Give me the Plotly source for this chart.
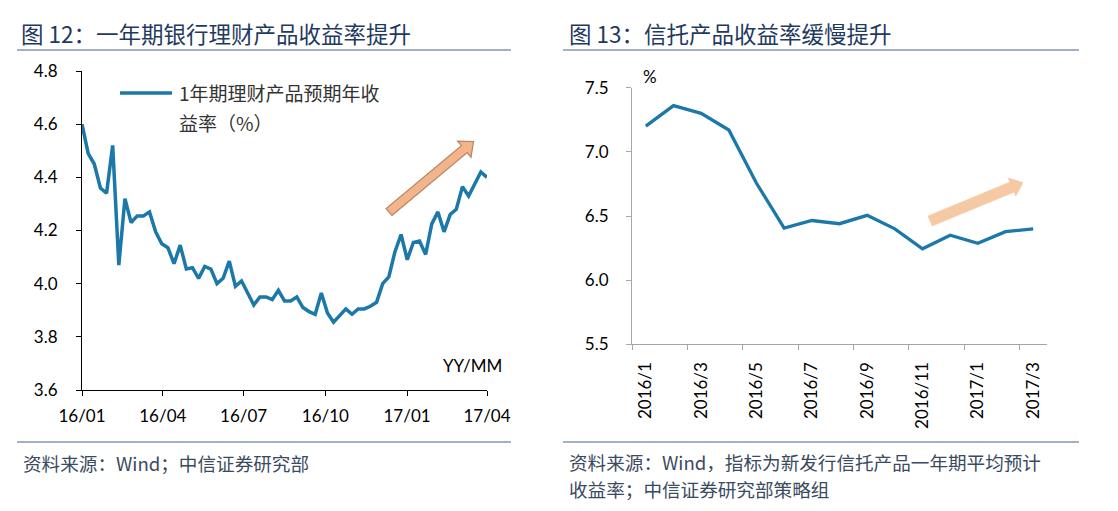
import plotly.graph_objects as go
import pandas as pd

W, H = 1118, 511

# ---------------- data ----------------
# Left chart: weekly 1-year bank WMP expected yield (%)
bank_yield = [4.60, 4.49, 4.45, 4.36, 4.34, 4.52, 4.07, 4.32, 4.23, 4.255,
              4.255, 4.27, 4.195, 4.15, 4.135, 4.075, 4.145, 4.055, 4.06, 4.02,
              4.065, 4.055, 4.00, 4.02, 4.085, 3.99, 4.01, 3.965, 3.92, 3.95,
              3.95, 3.94, 3.975, 3.935, 3.935, 3.95, 3.91, 3.895, 3.885, 3.965,
              3.89, 3.855, 3.88, 3.905, 3.885, 3.905, 3.905, 3.915, 3.93, 4.00,
              4.025, 4.12, 4.185, 4.09, 4.155, 4.16, 4.11, 4.225, 4.27, 4.195,
              4.26, 4.28, 4.365, 4.33, 4.375, 4.42, 4.40]
bank_dates = pd.date_range("2016-01-01", "2017-04-01", periods=len(bank_yield))
left_tickvals = ["2016-01-01", "2016-04-01", "2016-07-01", "2016-10-01", "2017-01-01", "2017-04-01"]
left_ticktext = ["16/01", "16/04", "16/07", "16/10", "17/01", "17/04"]
left_series_name = "1年期理财产品预期年收益率（%）"
legend_lines = ["1年期理财产品预期年收", "益率（%）"]

# Right chart: monthly trust product expected yield (%)
trust_months = ["2016/1", "2016/2", "2016/3", "2016/4", "2016/5", "2016/6", "2016/7",
                "2016/8", "2016/9", "2016/10", "2016/11", "2016/12", "2017/1",
                "2017/2", "2017/3"]
trust_yield = [7.20, 7.36, 7.30, 7.17, 6.755, 6.405, 6.465, 6.44, 6.505, 6.40,
               6.245, 6.35, 6.287, 6.378, 6.40]

title_left = "图 12：一年期银行理财产品收益率提升"
title_right = "图 13：信托产品收益率缓慢提升"
source_left = "资料来源：Wind；中信证券研究部"
source_right_lines = ["资料来源：Wind，指标为新发行信托产品一年期平均预计",
                      "收益率；中信证券研究部策略组"]

# ---------------- helpers ----------------
def px(x):
    return x / W

def py(y):
    return 1 - y / H

LINE_COLOR = "#1B78A8"
NAVY = "#1F3A5F"
RULE = "#8497B0"
TICK_FONT = dict(family="Lato, Carlito, sans-serif", size=17, color="#000000")
CJK = "Noto Sans CJK SC"

def arrow_path(tail, tip, body_hw, head_hw, head_len):
    import math
    dx, dy = tip[0] - tail[0], tip[1] - tail[1]
    L = math.hypot(dx, dy)
    ux, uy = dx / L, dy / L
    nx, ny = -uy, ux
    bx, by = tip[0] - ux * head_len, tip[1] - uy * head_len
    pts = [
        (tail[0] + nx * body_hw, tail[1] + ny * body_hw),
        (bx + nx * body_hw, by + ny * body_hw),
        (bx + nx * head_hw, by + ny * head_hw),
        tip,
        (bx - nx * head_hw, by - ny * head_hw),
        (bx - nx * body_hw, by - ny * body_hw),
        (tail[0] - nx * body_hw, tail[1] - ny * body_hw),
    ]
    return "M " + " L ".join(f"{px(a):.5f},{py(b):.5f}" for a, b in pts) + " Z"

fig = go.Figure()

fig.add_trace(go.Scatter(
    x=bank_dates, y=bank_yield, mode="lines", name=left_series_name,
    line=dict(color=LINE_COLOR, width=3.5), xaxis="x", yaxis="y",
    showlegend=False,
))
fig.add_trace(go.Scatter(
    x=list(range(len(trust_months))), y=trust_yield, mode="lines",
    name="信托产品收益率", line=dict(color=LINE_COLOR, width=3.3),
    xaxis="x2", yaxis="y2", showlegend=False,
))

idx = list(range(len(trust_months)))

fig.update_layout(
    width=W, height=H,
    margin=dict(l=0, r=0, t=0, b=0, pad=0, autoexpand=False),
    paper_bgcolor="white", plot_bgcolor="white",
    showlegend=False,
    xaxis=dict(
        domain=[px(82), px(487)], anchor="y", type="date", automargin=False,
        range=["2016-01-01", "2017-04-01"],
        tickmode="array", tickvals=left_tickvals, ticktext=left_ticktext,
        ticks="outside", ticklen=5, tickcolor="#000", showline=True,
        linecolor="#000", linewidth=1, showgrid=False, zeroline=False,
        tickfont=TICK_FONT, ticklabelstandoff=6,
    ),
    yaxis=dict(
        domain=[py(390), py(71)], anchor="x", range=[3.6, 4.8], dtick=0.2,
        tick0=3.6, tickformat=".1f", ticks="outside", ticklen=5, automargin=False,
        tickcolor="#000", showline=True, linecolor="#000", linewidth=1,
        showgrid=False, zeroline=False, tickfont=TICK_FONT,
        ticklabelstandoff=15,
    ),
    xaxis2=dict(
        domain=[px(632), px(1047)], anchor="y2", range=[-0.5, len(trust_months) - 0.5],
        tickmode="array", tickvals=idx[::2], ticktext=trust_months[::2],
        ticks="", tickangle=-90, showline=True, linecolor="#A6A6A6",
        linewidth=1, showgrid=False, zeroline=False, tickfont=TICK_FONT,
        ticklabelstandoff=10, automargin=False,
        minor=dict(tickmode="array", tickvals=[i - 0.5 for i in idx[::2]],
                   ticks="outside", ticklen=5, tickcolor="#A6A6A6", showgrid=False),
    ),
    yaxis2=dict(
        domain=[py(344.3), py(87.7)], anchor="x2", range=[5.5, 7.5], dtick=0.5,
        tick0=5.5, tickformat=".1f", ticks="outside", ticklen=5, automargin=False,
        tickcolor="#A6A6A6", showline=True, linecolor="#A6A6A6", linewidth=1,
        showgrid=False, zeroline=False, tickfont=TICK_FONT,
        ticklabelstandoff=14,
    ),
)

FOOT = dict(family=CJK, size=18.6, color="#3A4A60")
annotations = [
    dict(text=title_left, x=px(19), y=py(33), xanchor="left", yanchor="middle",
         font=dict(family=CJK, size=22.5, color=NAVY)),
    dict(text=title_right, x=px(567), y=py(33), xanchor="left", yanchor="middle",
         font=dict(family=CJK, size=22.5, color=NAVY)),
    dict(text=source_left, x=px(21), y=py(462), xanchor="left", yanchor="middle",
         font=FOOT),
    dict(text=source_right_lines[0], x=px(567), y=py(461), xanchor="left",
         yanchor="middle", font=FOOT),
    dict(text=source_right_lines[1], x=px(567), y=py(488.5), xanchor="left",
         yanchor="middle", font=FOOT),
    dict(text="YY/MM", x=px(504), y=py(365), xanchor="right", yanchor="middle",
         font=TICK_FONT),
    dict(text="%", x=px(650), y=py(77), xanchor="center", yanchor="middle",
         font=TICK_FONT),
    # legend text (two lines, as wrapped in the original)
    dict(text=legend_lines[0], x=px(177), y=py(93), xanchor="left", yanchor="middle",
         font=dict(family=CJK, size=19, color="#333333")),
    dict(text=legend_lines[1], x=px(177), y=py(122), xanchor="left", yanchor="middle",
         font=dict(family=CJK, size=19, color="#333333")),
]
for a in annotations:
    a.update(xref="paper", yref="paper", showarrow=False)
fig.update_layout(annotations=annotations)

shapes = [
    # title and footer rules
    dict(type="line", x0=px(17), x1=px(511), y0=py(50), y1=py(50),
         line=dict(color=RULE, width=1.5)),
    dict(type="line", x0=px(563), x1=px(1079), y0=py(50), y1=py(50),
         line=dict(color=RULE, width=1.5)),
    dict(type="line", x0=px(17), x1=px(511), y0=py(442), y1=py(442),
         line=dict(color=RULE, width=1.5)),
    dict(type="line", x0=px(563), x1=px(1079), y0=py(442), y1=py(442),
         line=dict(color=RULE, width=1.5)),
    # legend key
    dict(type="line", x0=px(120), x1=px(172), y0=py(93), y1=py(93),
         line=dict(color=LINE_COLOR, width=3.5)),
    # trend arrows
    dict(type="path", path=arrow_path((389, 212), (473.5, 141.5), 4.5, 10.5, 12),
         fillcolor="#F3B48C", line=dict(color="#B58763", width=1.2)),
    dict(type="path", path=arrow_path((930, 221), (1023, 182.5), 5.5, 10, 12),
         fillcolor="#F6C9A5", line=dict(color="#F6C9A5", width=0.5)),
]
for s in shapes:
    s.update(xref="paper", yref="paper", layer="above")
fig.update_layout(shapes=shapes)

fig.write_html("out.html", post_script="document.body.style.margin='0';",
               config={"displayModeBar": False})
